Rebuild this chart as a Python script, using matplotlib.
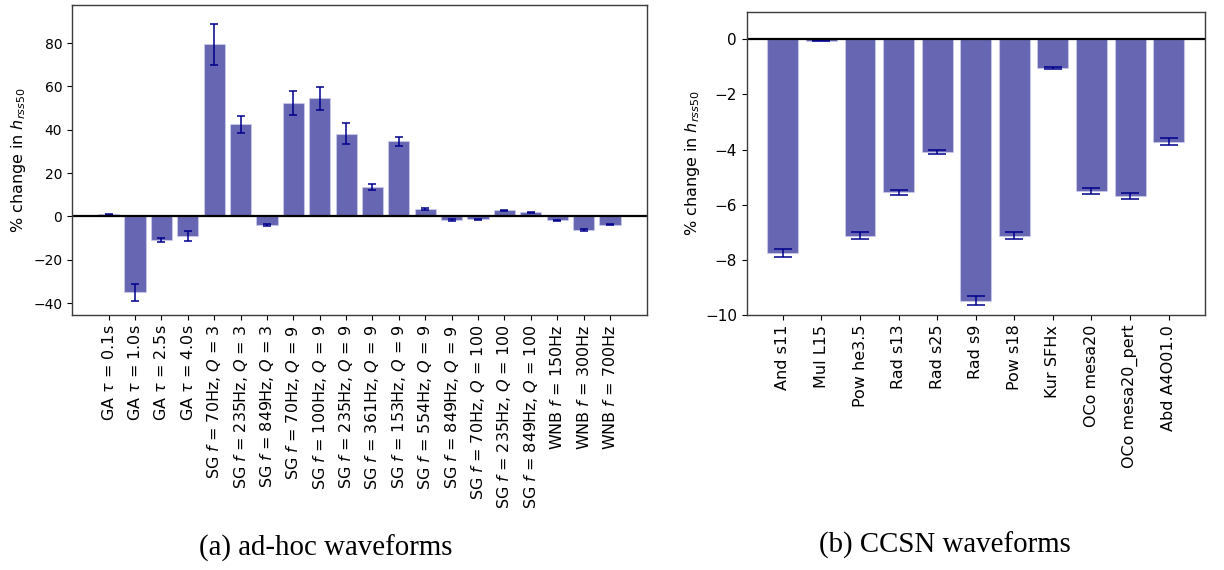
import matplotlib
matplotlib.use("Agg")
import matplotlib.pyplot as plt
import numpy as np

# ad-hoc waveform families
adhoc_labels = [
    r"GA $\tau$ = 0.1s", r"GA $\tau$ = 1.0s", r"GA $\tau$ = 2.5s", r"GA $\tau$ = 4.0s",
    r"SG $f$ = 70Hz, $Q$ = 3", r"SG $f$ = 235Hz, $Q$ = 3", r"SG $f$ = 849Hz, $Q$ = 3",
    r"SG $f$ = 70Hz, $Q$ = 9", r"SG $f$ = 100Hz, $Q$ = 9", r"SG $f$ = 235Hz, $Q$ = 9",
    r"SG $f$ = 361Hz, $Q$ = 9", r"SG $f$ = 153Hz, $Q$ = 9", r"SG $f$ = 554Hz, $Q$ = 9",
    r"SG $f$ = 849Hz, $Q$ = 9", r"SG $f$ = 70Hz, $Q$ = 100", r"SG $f$ = 235Hz, $Q$ = 100",
    r"SG $f$ = 849Hz, $Q$ = 100", r"WNB $f$ = 150Hz", r"WNB $f$ = 300Hz", r"WNB $f$ = 700Hz",
]
adhoc_change = [0.9, -35.0, -11.0, -9.2, 79.5, 42.4, -3.8, 52.3, 54.4, 38.2,
                13.6, 34.7, 3.4, -1.7, -1.4, 2.9, 1.8, -1.8, -6.1, -3.8]
adhoc_err = [0.2, 4.0, 1.0, 2.3, 9.5, 3.7, 0.5, 5.7, 5.5, 4.7,
             1.5, 2.1, 0.3, 0.4, 0.3, 0.2, 0.2, 0.3, 0.5, 0.3]

# core-collapse supernova waveforms
ccsn_labels = ["And s11", "Mul L15", "Pow he3.5", "Rad s13", "Rad s25", "Rad s9",
               "Pow s18", "Kur SFHx", "OCo mesa20", "OCo mesa20_pert", "Abd A4O01.0"]
ccsn_change = [-7.75, -0.05, -7.13, -5.55, -4.09, -9.48, -7.13, -1.04, -5.51, -5.68, -3.71]
ccsn_err = [0.15, 0.02, 0.13, 0.09, 0.08, 0.17, 0.13, 0.04, 0.10, 0.11, 0.13]

fig = plt.figure(figsize=(12.24, 5.70), dpi=100)
ax1 = fig.add_axes([0.0588, 0.4474, 0.4695, 0.5433])
ax2 = fig.add_axes([0.6100, 0.4474, 0.3744, 0.5321])

ylab = r"% change in $h_{rss50}$"


def panel(ax, labels, vals, errs, capsize, ytick_size, pad):
    x = np.arange(len(labels))
    ax.bar(x, vals, width=0.8, color="navy", alpha=0.6,
           edgecolor=(0.82, 0.82, 0.95), linewidth=0.8,
           yerr=errs, ecolor="darkblue", capsize=capsize,
           error_kw=dict(elinewidth=1.1, capthick=1.1))
    ax.axhline(0, color="black", lw=1.6)
    ax.set_xticks(x)
    ax.set_xticklabels(labels, rotation=90, fontsize=11.5)
    ax.tick_params(axis="y", labelsize=ytick_size)
    ax.set_ylabel(ylab, fontsize=11.5, labelpad=pad)
    for s in ax.spines.values():
        s.set_color("#3c3c3c")
        s.set_linewidth(1.0)


panel(ax1, adhoc_labels, adhoc_change, adhoc_err, 3.0, 10, 4)
ax1.set_ylim(-45.5, 97.4)
panel(ax2, ccsn_labels, ccsn_change, ccsn_err, 6.5, 11, 2)
ax2.set_ylim(-10, 1)

serif = ["Liberation Serif", "DejaVu Serif"]
fig.text(0.266, 1 - 548 / 570, "(a) ad-hoc waveforms", family=serif,
         fontsize=20.8, ha="center", va="center")
fig.text(0.772, 1 - 545 / 570, "(b) CCSN waveforms", family=serif,
         fontsize=20.8, ha="center", va="center")

fig.savefig("out.png", dpi=100)
